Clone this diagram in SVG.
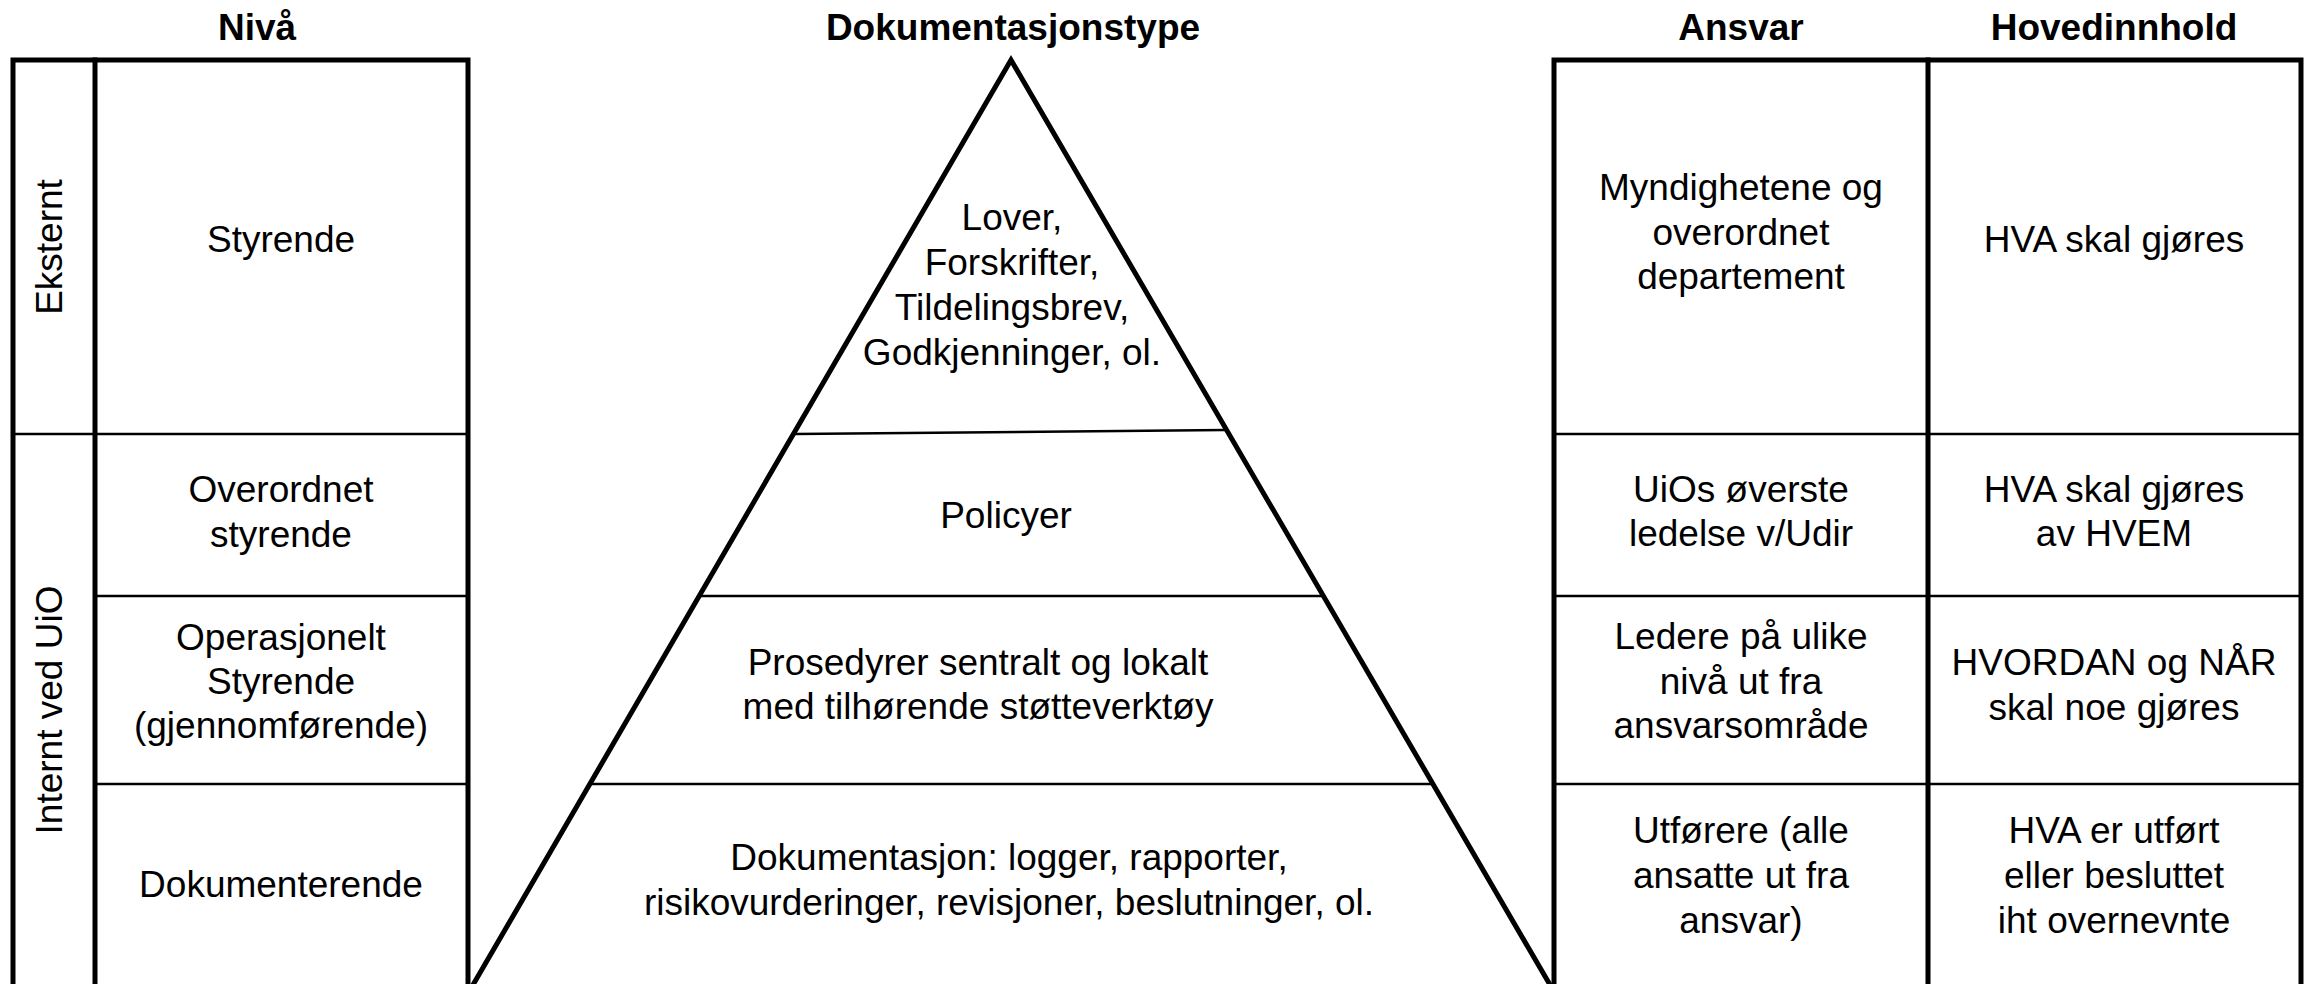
<svg xmlns="http://www.w3.org/2000/svg" width="2305" height="984" viewBox="0 0 2305 984">
<style>
.hd{font-family:"Liberation Sans",Arial,sans-serif;font-weight:bold;font-size:37px;text-anchor:middle;fill:#000}
.t{font-family:"Liberation Sans",Arial,sans-serif;font-size:37px;text-anchor:middle;fill:#000}
.thick{stroke:#000;stroke-width:5;fill:none;stroke-linejoin:miter;stroke-linecap:square}
.thin{stroke:#000;stroke-width:2.5;fill:none}
</style>
<rect width="2305" height="984" fill="#fff"/>
<g id="headers">
<text class="hd" x="257" y="40">Nivå</text>
<text class="hd" x="1013" y="40">Dokumentasjonstype</text>
<text class="hd" x="1741" y="40">Ansvar</text>
<text class="hd" x="2114" y="40">Hovedinnhold</text>
</g>
<g id="left-table">
<line class="thin" x1="13" y1="434" x2="468" y2="434"/>
<line class="thin" x1="95" y1="596" x2="468" y2="596"/>
<line class="thin" x1="95" y1="784" x2="468" y2="784"/>
<path class="thick" d="M13,990 V60 H468 V990"/>
<line class="thick" x1="95" y1="60" x2="95" y2="990"/>
</g>
<g id="eksternt"><text class="t" transform="translate(62,247) rotate(-90)" x="0" y="0">Eksternt</text></g>
<g id="internt"><text class="t" transform="translate(62,710) rotate(-90)" x="0" y="0">Internt ved UiO</text></g>
<g id="niva-styrende"><text class="t" x="281" y="252">Styrende</text></g>
<g id="niva-overordnet"><text class="t" x="281" y="502">Overordnet</text><text class="t" x="281" y="547">styrende</text></g>
<g id="niva-operasjonelt"><text class="t" x="281" y="650">Operasjonelt</text><text class="t" x="281" y="694">Styrende</text><text class="t" x="281" y="738">(gjennomførende)</text></g>
<g id="niva-dokumenterende"><text class="t" x="281" y="897">Dokumenterende</text></g>
<g id="pyramid">
<line class="thin" x1="795" y1="434" x2="1225" y2="430"/>
<line class="thin" x1="699" y1="596" x2="1323" y2="596"/>
<line class="thin" x1="590" y1="784" x2="1432" y2="784"/>
<path class="thick" d="M470,990 L1011,60 L1553,990" stroke-linejoin="miter"/>
</g>
<g id="pyr-lover"><text class="t" x="1012" y="230">Lover,</text><text class="t" x="1012" y="275">Forskrifter,</text><text class="t" x="1012" y="320">Tildelingsbrev,</text><text class="t" x="1012" y="365">Godkjenninger, ol.</text></g>
<g id="pyr-policyer"><text class="t" x="1006" y="528">Policyer</text></g>
<g id="pyr-prosedyrer"><text class="t" x="978" y="675">Prosedyrer sentralt og lokalt</text><text class="t" x="978" y="719">med tilhørende støtteverktøy</text></g>
<g id="pyr-dokumentasjon"><text class="t" x="1009" y="870">Dokumentasjon: logger, rapporter,</text><text class="t" x="1009" y="915">risikovurderinger, revisjoner, beslutninger, ol.</text></g>
<g id="right-table">
<line class="thin" x1="1554" y1="434" x2="2301" y2="434"/>
<line class="thin" x1="1554" y1="596" x2="2301" y2="596"/>
<line class="thin" x1="1554" y1="784" x2="2301" y2="784"/>
<path class="thick" d="M1554,990 V60 H2301 V990"/>
<line class="thick" x1="1928" y1="60" x2="1928" y2="990"/>
</g>
<g id="ansvar-1"><text class="t" x="1741" y="200">Myndighetene og</text><text class="t" x="1741" y="245">overordnet</text><text class="t" x="1741" y="289">departement</text></g>
<g id="innhold-1"><text class="t" x="2114" y="252">HVA skal gjøres</text></g>
<g id="ansvar-2"><text class="t" x="1741" y="502">UiOs øverste</text><text class="t" x="1741" y="546">ledelse v/Udir</text></g>
<g id="innhold-2"><text class="t" x="2114" y="502">HVA skal gjøres</text><text class="t" x="2114" y="546">av HVEM</text></g>
<g id="ansvar-3"><text class="t" x="1741" y="649">Ledere på ulike</text><text class="t" x="1741" y="694">nivå ut fra</text><text class="t" x="1741" y="738">ansvarsområde</text></g>
<g id="innhold-3"><text class="t" x="2114" y="675">HVORDAN og NÅR</text><text class="t" x="2114" y="720">skal noe gjøres</text></g>
<g id="ansvar-4"><text class="t" x="1741" y="843">Utførere (alle</text><text class="t" x="1741" y="888">ansatte ut fra</text><text class="t" x="1741" y="933">ansvar)</text></g>
<g id="innhold-4"><text class="t" x="2114" y="843">HVA er utført</text><text class="t" x="2114" y="888">eller besluttet</text><text class="t" x="2114" y="933">iht overnevnte</text></g>
</svg>
